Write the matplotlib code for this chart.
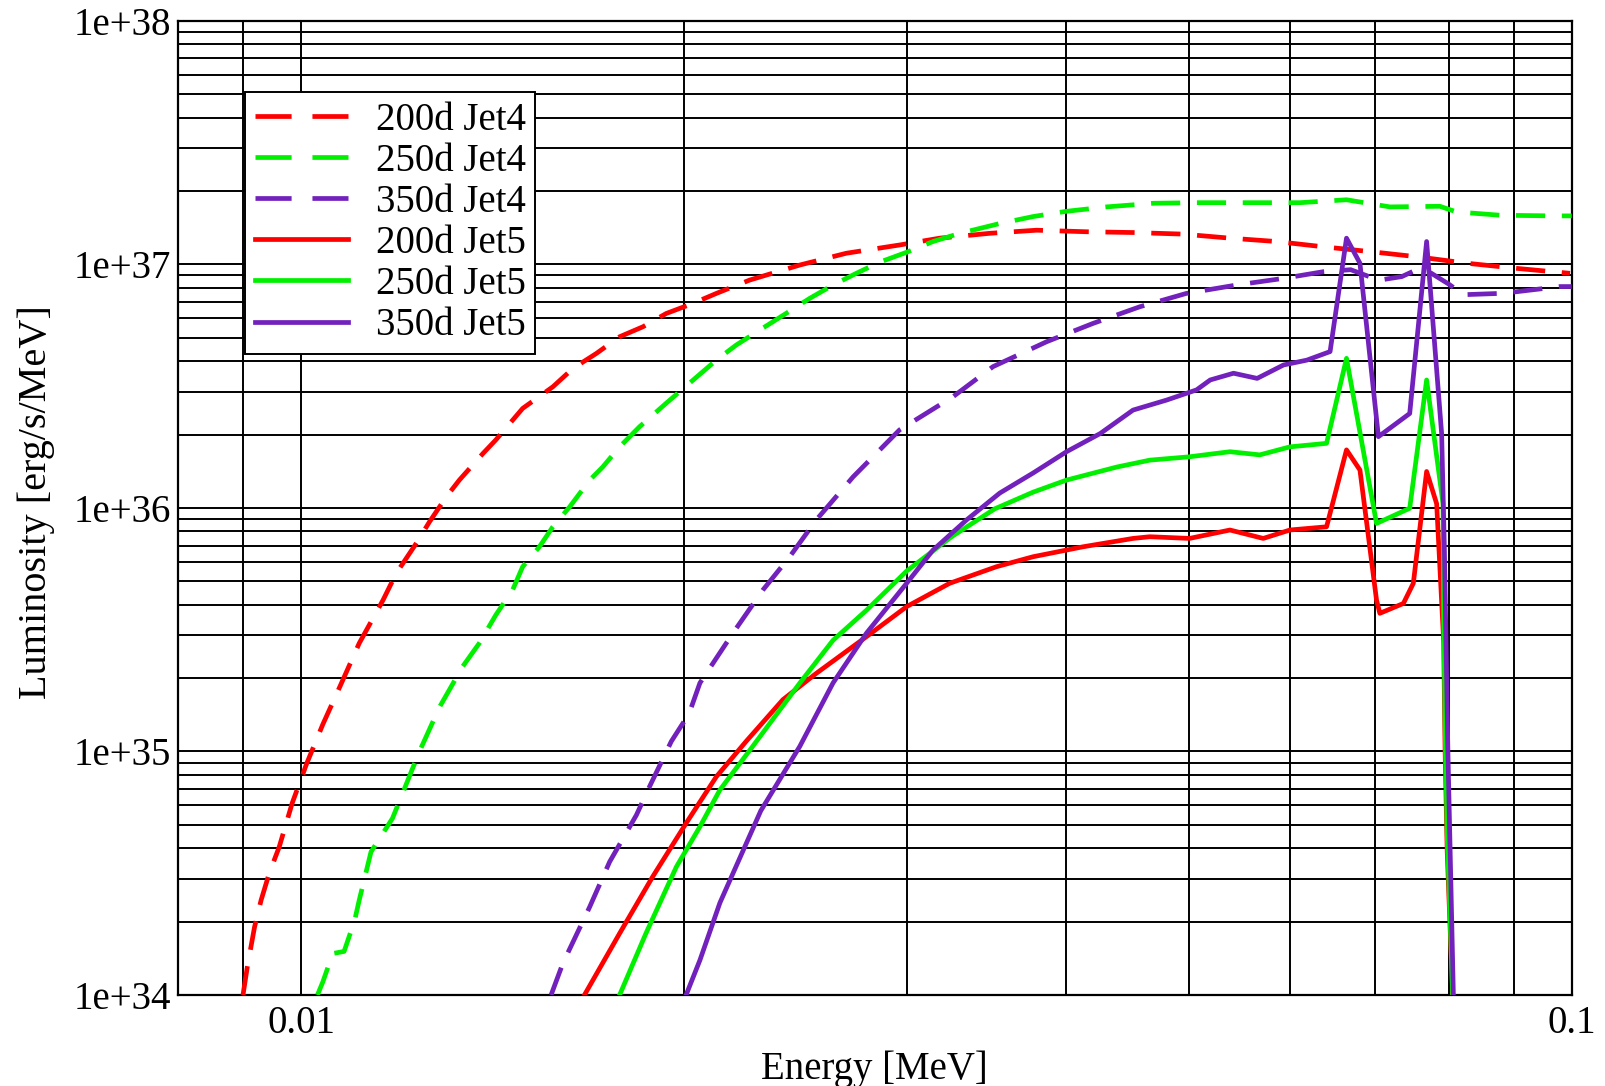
import numpy as np
import matplotlib
matplotlib.use("Agg")
import matplotlib.pyplot as plt
from matplotlib.lines import Line2D
from matplotlib.ticker import FixedLocator, FixedFormatter, NullFormatter

plt.rcParams['font.family'] = ['Liberation Serif', 'DejaVu Serif']
plt.rcParams['lines.scale_dashes'] = False

# ---- spectra: energy [MeV] and luminosity [erg/s/MeV] ----
E_200_jet4 = [0.00900, 0.00907, 0.00919, 0.00930, 0.00944, 0.00961, 0.00984, 0.01010,
              0.01040, 0.01073, 0.01111, 0.01160, 0.01188, 0.01232, 0.01262, 0.01301,
              0.01332, 0.01390, 0.01423, 0.01494, 0.01578, 0.01637, 0.01707, 0.01781,
              0.01858, 0.01938, 0.02033, 0.02122, 0.02254, 0.02469, 0.02686, 0.02958,
              0.03181, 0.03483, 0.03792, 0.04149, 0.04516, 0.04944, 0.05383, 0.05857,
              0.06373, 0.07021, 0.07597, 0.08269, 0.09050, 0.09970]
L_200_jet4 = [1.00e34, 1.30e34, 1.90e34, 2.45e34, 3.17e34, 4.05e34, 6.14e34, 8.90e34,
              1.29e35, 1.85e35, 2.78e35, 4.18e35, 5.38e35, 7.15e35, 8.77e35, 1.11e36,
              1.30e36, 1.67e36, 1.90e36, 2.56e36, 3.14e36, 3.74e36, 4.30e36, 5.04e36,
              5.54e36, 6.28e36, 6.90e36, 7.59e36, 8.61e36, 9.93e36, 1.11e37, 1.20e37,
              1.28e37, 1.34e37, 1.38e37, 1.36e37, 1.35e37, 1.33e37, 1.28e37, 1.24e37,
              1.18e37, 1.12e37, 1.07e37, 1.01e37, 9.62e36, 9.18e36]

E_250_jet4 = [0.01030, 0.01040, 0.01059, 0.01081, 0.01102, 0.01111, 0.01135, 0.01180,
              0.01239, 0.01285, 0.01340, 0.01381, 0.01423, 0.01467, 0.01494, 0.01540,
              0.01578, 0.01627, 0.01687, 0.01727, 0.01781, 0.01846, 0.01938, 0.02020,
              0.02122, 0.02200, 0.02296, 0.02409, 0.02513, 0.02622, 0.02735, 0.02853,
              0.02996, 0.03143, 0.03300, 0.03547, 0.03768, 0.04003, 0.04303, 0.04684,
              0.05067, 0.05682, 0.06110, 0.06649, 0.07194, 0.07875, 0.08117, 0.08781,
              0.09671, 0.10000]
L_250_jet4 = [1.00e34, 1.13e34, 1.48e34, 1.51e34, 2.03e34, 2.45e34, 3.87e34, 5.31e34,
              9.98e34, 1.52e35, 2.23e35, 2.78e35, 3.63e35, 4.60e35, 5.73e35, 6.92e35,
              8.36e35, 1.01e36, 1.30e36, 1.47e36, 1.78e36, 2.15e36, 2.69e36, 3.24e36,
              4.04e36, 4.66e36, 5.37e36, 6.29e36, 7.24e36, 8.22e36, 9.18e36, 1.02e37,
              1.12e37, 1.24e37, 1.34e37, 1.47e37, 1.57e37, 1.65e37, 1.72e37, 1.78e37,
              1.79e37, 1.79e37, 1.79e37, 1.84e37, 1.72e37, 1.73e37, 1.64e37, 1.59e37,
              1.58e37, 1.58e37]

E_350_jet4 = [0.01573, 0.01607, 0.01687, 0.01749, 0.01836, 0.01880, 0.01956, 0.02020,
              0.02060, 0.02187, 0.02309, 0.02424, 0.02543, 0.02719, 0.02958, 0.03259,
              0.03504, 0.03862, 0.04201, 0.04571, 0.04973, 0.05448, 0.05929, 0.06373,
              0.06700, 0.07050, 0.07350, 0.07550, 0.07750, 0.08000, 0.08220, 0.08830,
              0.09790, 0.10000]
L_350_jet4 = [1.00e34, 1.35e34, 2.30e34, 3.52e34, 5.48e34, 7.16e34, 1.10e35, 1.43e35,
              1.91e35, 3.06e35, 4.60e35, 6.30e35, 8.91e35, 1.34e36, 2.09e36, 2.86e36,
              3.80e36, 4.81e36, 5.72e36, 6.69e36, 7.59e36, 8.22e36, 8.75e36, 9.32e36,
              9.50e36, 8.60e36, 8.90e36, 9.50e36, 9.20e36, 8.30e36, 7.50e36, 7.60e36,
              8.10e36, 8.10e36]

E_200_jet5 = [0.01671, 0.01781, 0.01891, 0.02009, 0.02122, 0.02240, 0.02394, 0.02543,
              0.02786, 0.02996, 0.03239, 0.03525, 0.03768, 0.04124, 0.04516, 0.04656,
              0.05003, 0.05383, 0.05718, 0.06001, 0.06413, 0.06649, 0.06813, 0.07021,
              0.07063, 0.07371, 0.07505, 0.07688, 0.07829, 0.07930, 0.07950, 0.07980,
              0.08060]
L_200_jet5 = [1.00e34, 1.79e34, 3.06e34, 5.07e34, 7.87e34, 1.10e35, 1.63e35, 2.09e35,
              2.96e35, 3.93e35, 4.90e35, 5.73e35, 6.30e35, 6.92e35, 7.49e35, 7.61e35,
              7.49e35, 8.11e35, 7.49e35, 8.11e35, 8.36e35, 1.73e36, 1.43e36, 4.18e35,
              3.69e35, 4.05e35, 4.90e35, 1.41e36, 1.04e36, 2.80e35, 1.00e35, 3.90e34,
              1.00e34]

E_250_jet5 = [0.01781, 0.01868, 0.01974, 0.02060, 0.02136, 0.02267, 0.02469, 0.02622,
              0.02786, 0.02996, 0.03249, 0.03514, 0.03768, 0.04003, 0.04383, 0.04656,
              0.05000, 0.05383, 0.05682, 0.06001, 0.06413, 0.06649, 0.07021, 0.07456,
              0.07688, 0.07850, 0.07920, 0.07930, 0.07950, 0.07980, 0.08060]
L_250_jet5 = [1.00e34, 1.79e34, 3.36e34, 4.91e34, 6.95e34, 1.05e35, 1.91e35, 2.86e35,
              3.80e35, 5.50e35, 7.60e35, 9.90e35, 1.16e36, 1.30e36, 1.47e36, 1.57e36,
              1.62e36, 1.70e36, 1.65e36, 1.78e36, 1.84e36, 4.11e36, 8.63e35, 9.96e35,
              3.35e36, 1.47e36, 1.04e36, 3.60e35, 1.30e35, 4.60e34, 1.00e34]

E_350_jet5 = [0.02009, 0.02060, 0.02136, 0.02300, 0.02469, 0.02622, 0.02786, 0.02996,
              0.03143, 0.03339, 0.03547, 0.03768, 0.04003, 0.04256, 0.04516, 0.04799,
              0.05067, 0.05194, 0.05418, 0.05655, 0.05932, 0.06187, 0.06454, 0.06649,
              0.06813, 0.07045, 0.07456, 0.07688, 0.07900, 0.07940, 0.07990, 0.08070]
L_350_jet5 = [1.00e34, 1.39e34, 2.39e34, 5.70e34, 1.05e35, 1.91e35, 3.06e35, 4.90e35,
              6.71e35, 8.91e35, 1.15e36, 1.39e36, 1.70e36, 2.02e36, 2.52e36, 2.77e36,
              3.05e36, 3.35e36, 3.57e36, 3.40e36, 3.86e36, 4.04e36, 4.38e36, 1.28e37,
              1.01e37, 1.96e36, 2.44e36, 1.24e37, 2.02e36, 6.70e35, 1.01e35, 1.00e34]

labels = ["200d Jet4", "250d Jet4", "350d Jet4", "200d Jet5", "250d Jet5", "350d Jet5"]

x_ticks = [0.01, 0.1]
x_tick_labels = ["0.01", "0.1"]
x_minor = [0.009, 0.02, 0.03, 0.04, 0.05, 0.06, 0.07, 0.08, 0.09]
y_ticks = [1e34, 1e35, 1e36, 1e37, 1e38]
y_tick_labels = ["1e+34", "1e+35", "1e+36", "1e+37", "1e+38"]
y_minor = [m * 10.0 ** d for d in range(34, 38) for m in range(2, 10)]

RED, GREEN, INDIGO = "#ff0000", "#00f000", "#7221bc"
DASH = (0, (21, 12))
LEGEND_DASH = (0, (26, 15))
LW = 3.4

fig = plt.figure(figsize=(16.05, 10.86), dpi=100)
ax = fig.add_axes([178 / 1605, 91 / 1086, 1393.7 / 1605, 974.3 / 1086])

curves = [
    (E_200_jet4, L_200_jet4, RED, DASH),
    (E_250_jet4, L_250_jet4, GREEN, DASH),
    (E_350_jet4, L_350_jet4, INDIGO, DASH),
    (E_200_jet5, L_200_jet5, RED, "-"),
    (E_250_jet5, L_250_jet5, GREEN, "-"),
    (E_350_jet5, L_350_jet5, INDIGO, "-"),
]
handles = []
for (e, l, c, ls), lab in zip(curves, labels):
    ax.plot(e, l, color=c, linestyle=ls, linewidth=LW, label=lab,
            solid_joinstyle="round", dash_capstyle="butt", zorder=3)
    handles.append(Line2D([], [], color=c, linewidth=LW,
                          linestyle=LEGEND_DASH if ls != "-" else "-",
                          dash_capstyle="butt"))

ax.set_xscale("log")
ax.set_yscale("log")
ax.set_xlim(0.008, 0.1)
ax.set_ylim(1e34, 1e38)

ax.xaxis.set_major_locator(FixedLocator(x_ticks))
ax.xaxis.set_major_formatter(FixedFormatter(x_tick_labels))
ax.xaxis.set_minor_locator(FixedLocator(x_minor))
ax.xaxis.set_minor_formatter(NullFormatter())
ax.yaxis.set_major_locator(FixedLocator(y_ticks))
ax.yaxis.set_major_formatter(FixedFormatter(y_tick_labels))
ax.yaxis.set_minor_locator(FixedLocator(y_minor))
ax.yaxis.set_minor_formatter(NullFormatter())

ax.grid(True, which="both", color="black", linewidth=1.4)
ax.set_axisbelow(True)
for s in ax.spines.values():
    s.set_linewidth(1.6)
    s.set_color("black")

ax.tick_params(which="both", length=0)
ax.tick_params(axis="x", labelsize=28, pad=7)
ax.tick_params(axis="y", labelsize=28, pad=5)

ax.set_xlabel("Energy [MeV]", fontsize=28)
ax.set_ylabel("Luminosity [erg/s/MeV]", fontsize=29)
ax.xaxis.set_label_coords(0.5, -0.057)
ax.yaxis.set_label_coords(-0.0885, 0.506)

leg = ax.legend(handles, labels, loc="upper left", bbox_to_anchor=(0.0481, 0.9268),
                borderaxespad=0, fontsize=28, frameon=True, fancybox=False,
                shadow=False, handlelength=2.39, handletextpad=0.72,
                labelspacing=0.105, borderpad=0.25, framealpha=1)
leg.get_frame().set_edgecolor("black")
leg.get_frame().set_linewidth(1.4)
leg.set_zorder(5)

fig.savefig("out.png", dpi=100, facecolor="white")
